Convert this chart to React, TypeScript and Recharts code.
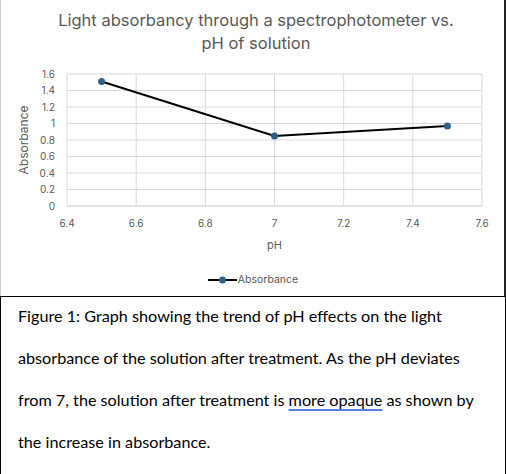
import { LineChart, Line, XAxis, YAxis, CartesianGrid } from "recharts";

const phValues = [6.5, 7, 7.5];
const absorbance = [1.51, 0.85, 0.97];
const xTicks = [6.4, 6.6, 6.8, 7, 7.2, 7.4, 7.6];
const yTicks = [0, 0.2, 0.4, 0.6, 0.8, 1, 1.2, 1.4, 1.6];
const titleLines = ["Light absorbancy through a spectrophotometer vs.", "pH of solution"];
const captionLines = [
  "Figure 1: Graph showing the trend of pH effects on the light",
  "absorbance of the solution after treatment. As the pH deviates",
  "from 7, the solution after treatment is ",
  "the increase in absorbance.",
];

const chartData = phValues.map((ph, i) => ({ ph, absorbance: absorbance[i] }));

const CHART_FONT = "Inter, 'Noto Sans', sans-serif";
const GRID = "#d9d9d9";
const TXT = "#595959";
const DOT = "#2d5f8b";

function LegendBox() {
  return (
    <div style={{ position: "absolute", left: 0, top: 273, width: 506, display: "flex", alignItems: "center", justifyContent: "center", fontFamily: CHART_FONT, fontSize: 10.5, color: TXT }}>
      <svg width={29} height={10} style={{ marginRight: 1 }}>
        <line x1={0} y1={5} x2={29} y2={5} stroke="#000" strokeWidth={2} />
        <circle cx={14.5} cy={5} r={3.5} fill={DOT} />
      </svg>
      <span>Absorbance</span>
    </div>
  );
}

export default function App() {
  return (
    <div style={{ position: "absolute", left: 0, top: 0, width: 506, height: 474, background: "#fff", overflow: "hidden" }}>
      <div style={{ position: "absolute", left: 0, top: 0, width: 506, height: 296, borderLeft: "1px solid #d0d0d0", boxSizing: "border-box" }} />
      <div style={{ position: "absolute", right: 0, top: 0, width: 2, height: 296, background: "#222" }} />
      <div style={{ position: "absolute", left: 0, top: 9, width: 512, textAlign: "center", fontFamily: CHART_FONT, fontSize: 16.5, lineHeight: "23px", color: TXT }}>
        {titleLines.map((t) => (
          <div key={t}>{t}</div>
        ))}
      </div>
      <LineChart width={506} height={296} data={chartData} margin={{ top: 74, right: 24, bottom: 60, left: 0 }} style={{ position: "absolute", left: 0, top: 0 }}>
        <CartesianGrid stroke={GRID} strokeWidth={1} />
        <XAxis
          dataKey="ph"
          type="number"
          domain={[6.4, 7.6]}
          ticks={xTicks}
          interval={0}
          height={30}
          axisLine={{ stroke: GRID }}
          tickLine={false}
          tickMargin={8}
          tick={{ fontSize: 10, fill: TXT, fontFamily: CHART_FONT }}
          label={{ value: "pH", position: "bottom", offset: 5, fill: TXT, fontSize: 11, fontFamily: CHART_FONT }}
        />
        <YAxis
          type="number"
          domain={[0, 1.6]}
          ticks={yTicks}
          interval={0}
          width={67}
          axisLine={false}
          tickLine={false}
          tickMargin={6}
          tick={{ fontSize: 10, fill: TXT, fontFamily: CHART_FONT }}
          label={{ value: "Absorbance", angle: -90, position: "insideLeft", offset: 24, fill: TXT, fontSize: 12, fontFamily: CHART_FONT, style: { textAnchor: "middle" } }}
        />
        <Line
          dataKey="absorbance"
          name="Absorbance"
          stroke="#000"
          strokeWidth={2}
          dot={{ r: 3.5, fill: DOT, stroke: DOT, strokeWidth: 0 }}
          isAnimationActive={false}
        />
      </LineChart>
      <LegendBox />
      <div style={{ position: "absolute", left: 0, top: 296, width: 506, height: 178, borderTop: "1px solid #000", borderLeft: "1px solid #000", borderRight: "1px solid #000", boxSizing: "border-box", fontFamily: "Lato, 'Open Sans', sans-serif", fontSize: 16.2, color: "#000", paddingLeft: 17, paddingTop: 7 }}>
        {captionLines.map((t, i) => (
          <div key={i} style={{ height: 42, lineHeight: "24px", whiteSpace: "nowrap" }}>
            {t}
            {i === 2 && (
              <>
                <span style={{ textDecoration: "underline", textDecorationColor: "#5b7fe0", textDecorationThickness: 2, textUnderlineOffset: 3 }}>more opaque</span>
                {" as shown by"}
              </>
            )}
          </div>
        ))}
      </div>
    </div>
  );
}
